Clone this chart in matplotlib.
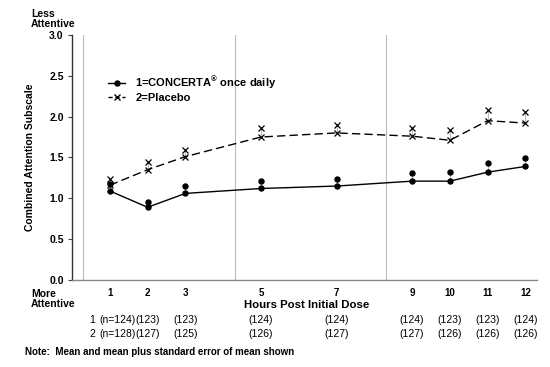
import matplotlib
matplotlib.use("Agg")
import matplotlib.pyplot as plt
from matplotlib.lines import Line2D

plt.rcParams['font.family'] = ['Liberation Sans', 'DejaVu Sans']

# data
hours = [1, 2, 3, 5, 7, 9, 10, 11, 12]
concerta_mean = [1.09, 0.89, 1.06, 1.12, 1.15, 1.21, 1.21, 1.32, 1.39]
concerta_upper = [1.17, 0.96, 1.15, 1.21, 1.24, 1.31, 1.32, 1.43, 1.49]
placebo_mean = [1.16, 1.35, 1.51, 1.75, 1.80, 1.76, 1.71, 1.95, 1.92]
placebo_upper = [1.24, 1.44, 1.59, 1.86, 1.90, 1.86, 1.83, 2.08, 2.05]
n_concerta = ["(n=124)", "(123)", "(123)", "(124)", "(124)", "(124)", "(123)", "(123)", "(124)"]
n_placebo = ["(n=128)", "(127)", "(125)", "(126)", "(127)", "(127)", "(126)", "(126)", "(126)"]
day_marks = [0.3, 4.3, 8.3]

fig = plt.figure(figsize=(5.5, 3.67), dpi=100)
ax = fig.add_axes([0.131, 0.237, 0.845, 0.668])

for x in day_marks:
    ax.axvline(x, color='#bbbbbb', lw=0.8, zorder=0)

# error bars (mean to mean + SE)
for h, m, u in zip(hours, concerta_mean, concerta_upper):
    ax.plot([h, h], [m, u], color='#999999', lw=0.5, zorder=1)
for h, m, u in zip(hours, placebo_mean, placebo_upper):
    ax.plot([h, h], [m, u], color='#999999', lw=0.5, zorder=1)

ax.plot(hours, concerta_mean, color='black', lw=1.0, marker='o', ms=3.6, zorder=3)
ax.plot(hours, concerta_upper, ls='none', color='black', marker='o', ms=3.6, zorder=3)
ax.plot(hours, placebo_mean, color='black', lw=1.0, ls=(0, (6, 3)), marker='x', ms=4, mew=0.9, zorder=3)
ax.plot(hours, placebo_upper, ls='none', color='black', marker='x', ms=4, mew=0.9, zorder=3)

ax.set_xlim(0, 12.3)
ax.set_ylim(0, 3.0)
ax.set_xticks(hours)
ax.set_xticklabels([str(h) for h in hours])
ax.set_yticks([0.0, 0.5, 1.0, 1.5, 2.0, 2.5, 3.0])
ax.set_yticklabels(['0.0', '0.5', '1.0', '1.5', '2.0', '2.5', '3.0'])
ax.tick_params(axis='x', length=0, labelsize=7, pad=6)
ax.tick_params(axis='y', length=3, labelsize=7.5, pad=3, color='#444444')
for lab in ax.get_xticklabels() + ax.get_yticklabels():
    lab.set_fontweight('bold')

ax.spines['top'].set_visible(False)
ax.spines['right'].set_visible(False)
ax.spines['left'].set_color('#333333')
ax.spines['bottom'].set_color('#888888')
ax.spines['left'].set_linewidth(1.0)
ax.spines['bottom'].set_linewidth(1.0)

ax.set_ylabel('Combined Attention Subscale', fontsize=7.5, fontweight='bold', labelpad=10)

handles = [
    Line2D([], [], color='black', lw=1.0, marker='o', ms=3.6),
    Line2D([], [], color='black', lw=1.0, ls=(0, (3, 2)), marker='x', ms=4),
]
ax.legend(handles, ['1=CONCERTA$^{\\mathregular{®}}$ once daily', '2=Placebo'],
          loc='upper left', bbox_to_anchor=(0.067, 0.855), frameon=False,
          prop={'size': 8, 'weight': 'bold'}, handlelength=1.6, handletextpad=0.9,
          labelspacing=0.15, borderaxespad=0)

fig.text(0.056, 0.975, 'Less\nAttentive', fontsize=7.5, fontweight='bold', va='top', linespacing=0.95)
fig.text(0.056, 0.212, 'More\nAttentive', fontsize=7.5, fontweight='bold', va='top', linespacing=0.95)
fig.text(0.558, 0.169, 'Hours Post Initial Dose', fontsize=8.2, fontweight='bold', ha='center', va='center')

ytr = ax.get_xaxis_transform()
row1 = -0.163
row2 = -0.22
ax.text(0.53, row1, '1', transform=ytr, fontsize=7.5, ha='center', va='center')
ax.text(0.53, row2, '2', transform=ytr, fontsize=7.5, ha='center', va='center')
for i, h in enumerate(hours):
    xx = h + 0.2 if i == 0 else h
    ax.text(xx, row1, n_concerta[i], transform=ytr, fontsize=7.5, ha='center', va='center')
    ax.text(xx, row2, n_placebo[i], transform=ytr, fontsize=7.5, ha='center', va='center')

fig.text(0.045, 0.04, 'Note:  Mean and mean plus standard error of mean shown', fontsize=7, fontweight='bold', va='center')

fig.savefig('out.png', dpi=100)
